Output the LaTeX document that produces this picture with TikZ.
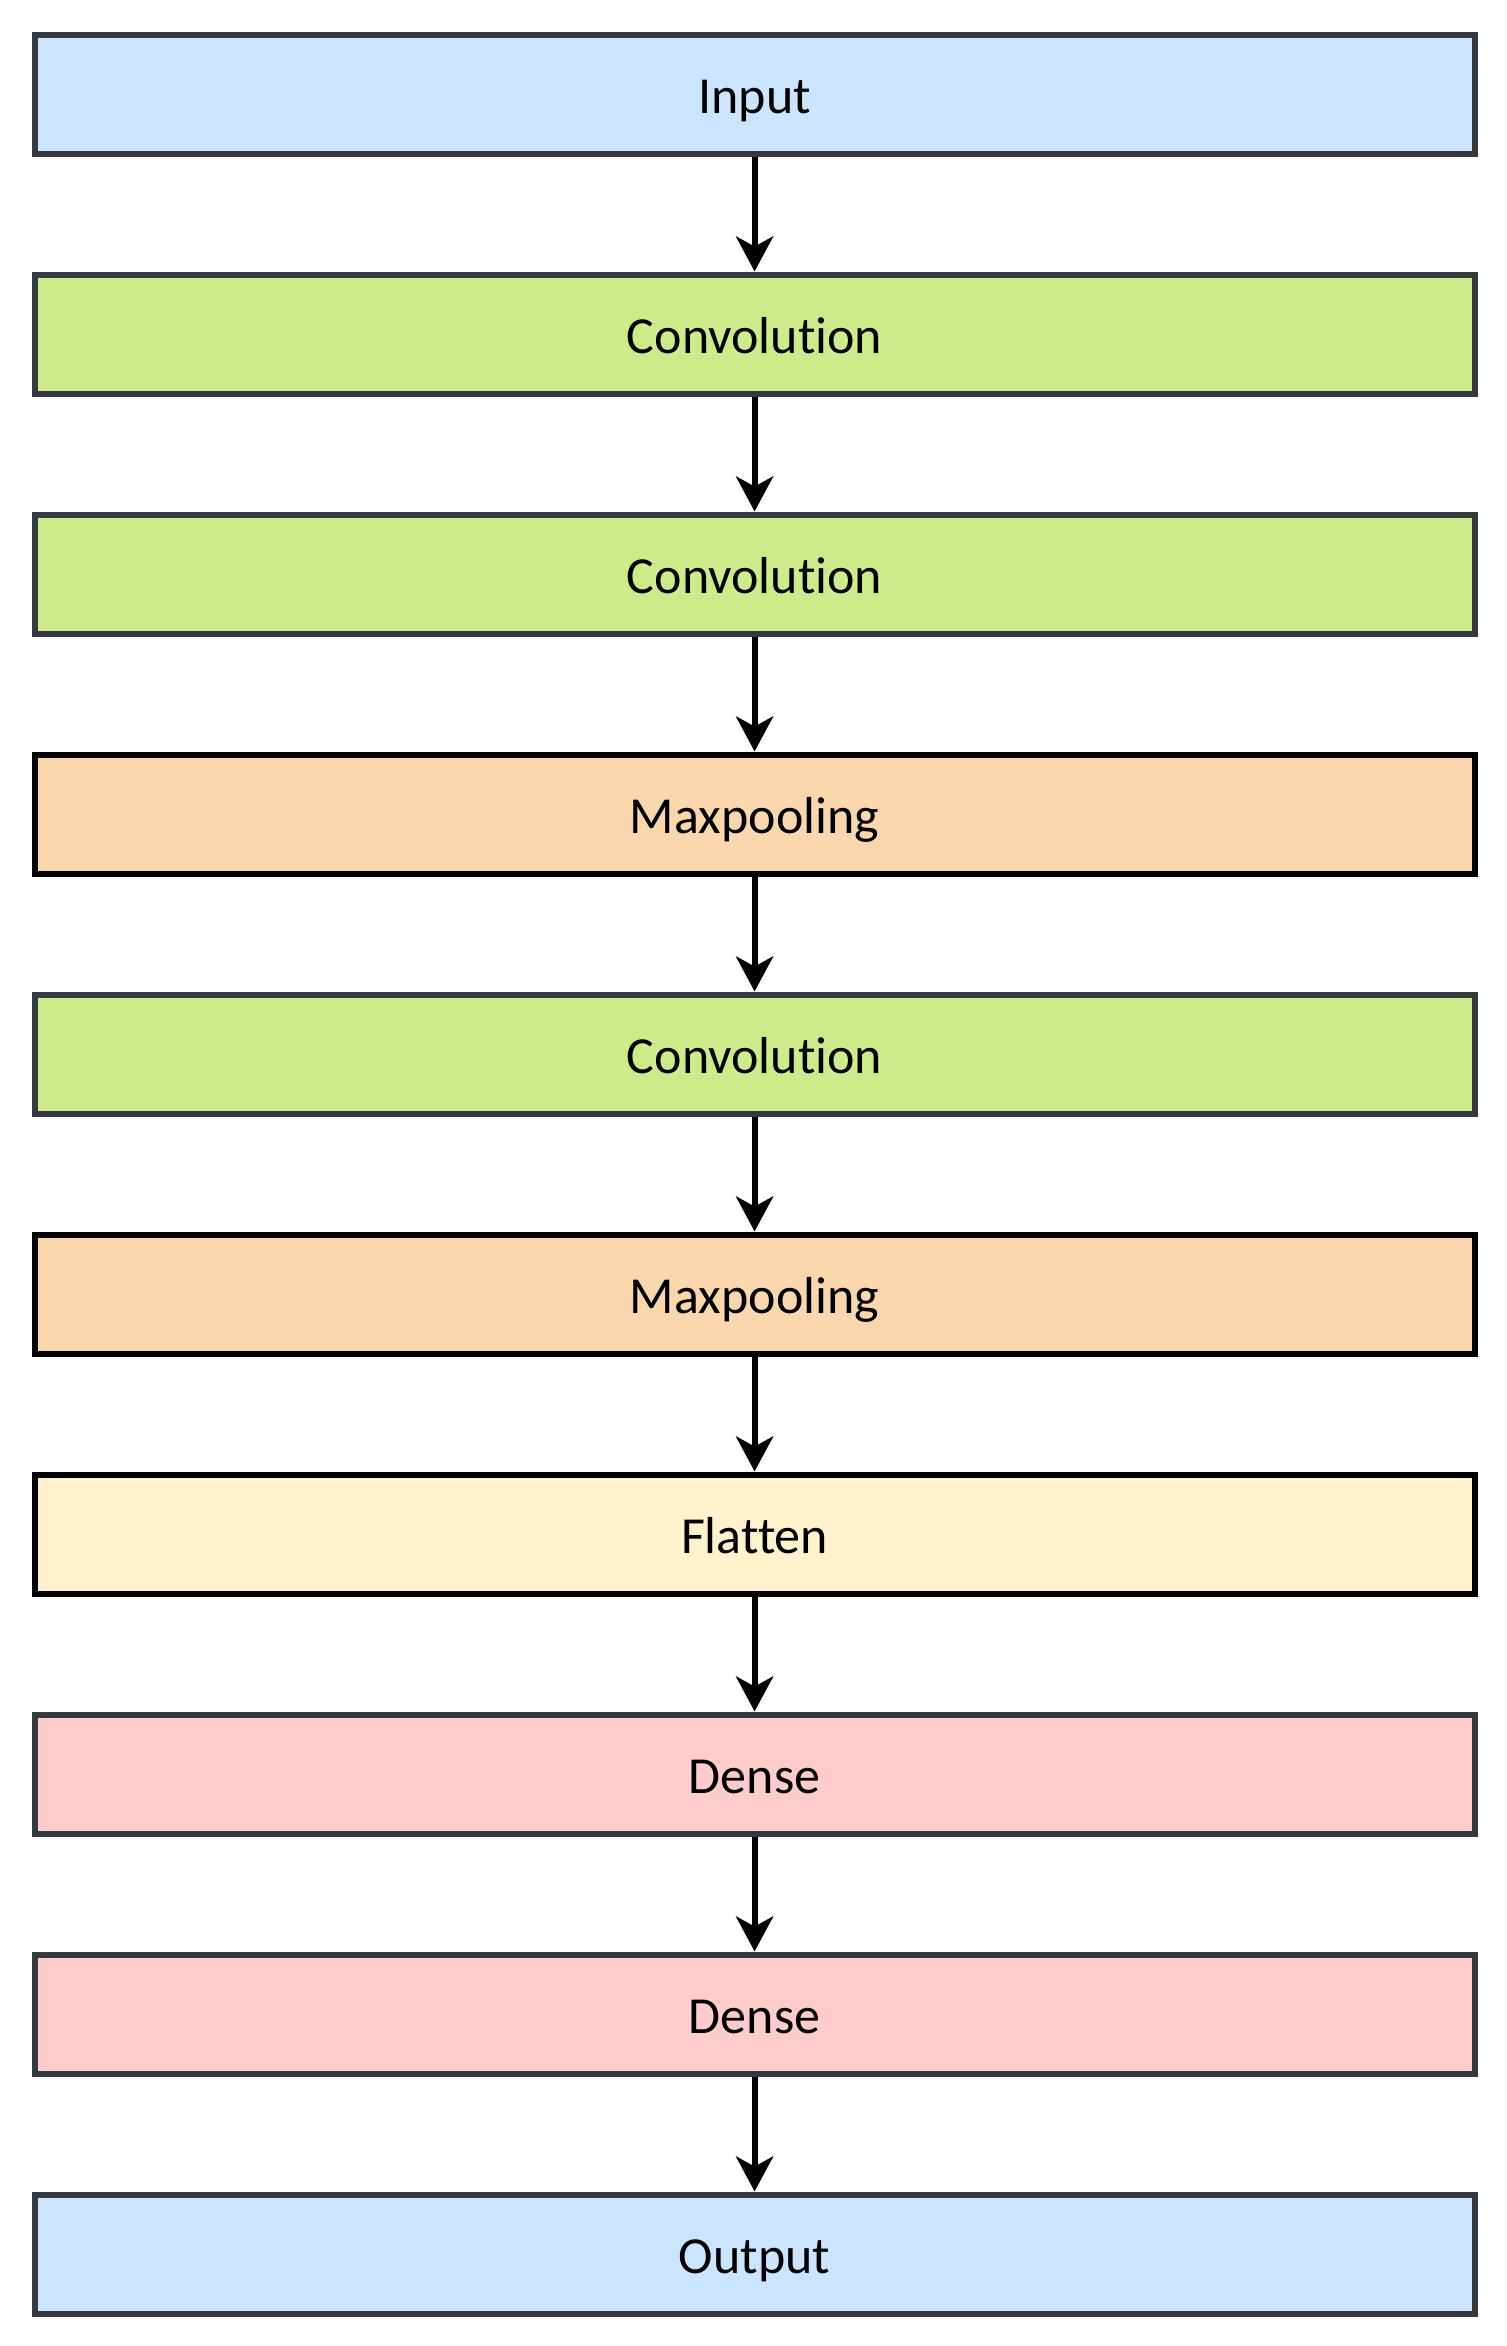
\documentclass[tikz,border=0pt]{standalone}
\usepackage{fontspec}
\setmainfont{Carlito}[Ligatures=NoCommon]
\usepackage{xcolor}
\usepackage{tikz}
\usetikzlibrary{arrows.meta,positioning}
\definecolor{layerblue}{HTML}{CCE5FF}
\definecolor{layergreen}{HTML}{CDEB8B}
\definecolor{layerorange}{HTML}{FAD7AC}
\definecolor{layeryellow}{HTML}{FFF2CC}
\definecolor{layerred}{HTML}{FFCCCC}
\definecolor{layergray}{HTML}{36393D}

\begin{document}
\begin{tikzpicture}[node distance=57.5pt,>={Stealth[length=17.5pt,width=18.5pt,inset=5pt]},font=\fontsize{26}{30}\selectfont]

\tikzset{
layer/.style={
    draw=layergray,
    line width=3pt,
    minimum width=720pt,
    minimum height=59.5pt,
    text height=19pt,
    text depth=0pt,
    inner sep=0pt
},
inputbox/.style={layer,fill=layerblue},
convbox/.style={layer,fill=layergreen},
poolbox/.style={layer,draw=black,fill=layerorange},
flatbox/.style={layer,draw=black,fill=layeryellow},
densebox/.style={layer,fill=layerred},
arrow/.style={->,line width=3pt,color=black}
}

\useasboundingbox (-377.3pt,47pt) rectangle (375.7pt,-1126pt);

\node[inputbox] (input) at (0,0) {Input};
\node[convbox,below=of input] (conv1) {Convolution};
\node[convbox,below=of conv1] (conv2) {Convolution};
\node[poolbox,below=of conv2] (pool1) {Maxpooling};
\node[convbox,below=of pool1] (conv3) {Convolution};
\node[poolbox,below=of conv3] (pool2) {Maxpooling};
\node[flatbox,below=of pool2] (flat) {Flatten};
\node[densebox,below=of flat] (dense1) {Dense};
\node[densebox,below=of dense1] (dense2) {Dense};
\node[inputbox,below=of dense2] (output) {Output};

\draw[arrow] (input) -- (conv1);
\draw[arrow] (conv1) -- (conv2);
\draw[arrow] (conv2) -- (pool1);
\draw[arrow] (pool1) -- (conv3);
\draw[arrow] (conv3) -- (pool2);
\draw[arrow] (pool2) -- (flat);
\draw[arrow] (flat) -- (dense1);
\draw[arrow] (dense1) -- (dense2);
\draw[arrow] (dense2) -- (output);

\end{tikzpicture}
\end{document}
